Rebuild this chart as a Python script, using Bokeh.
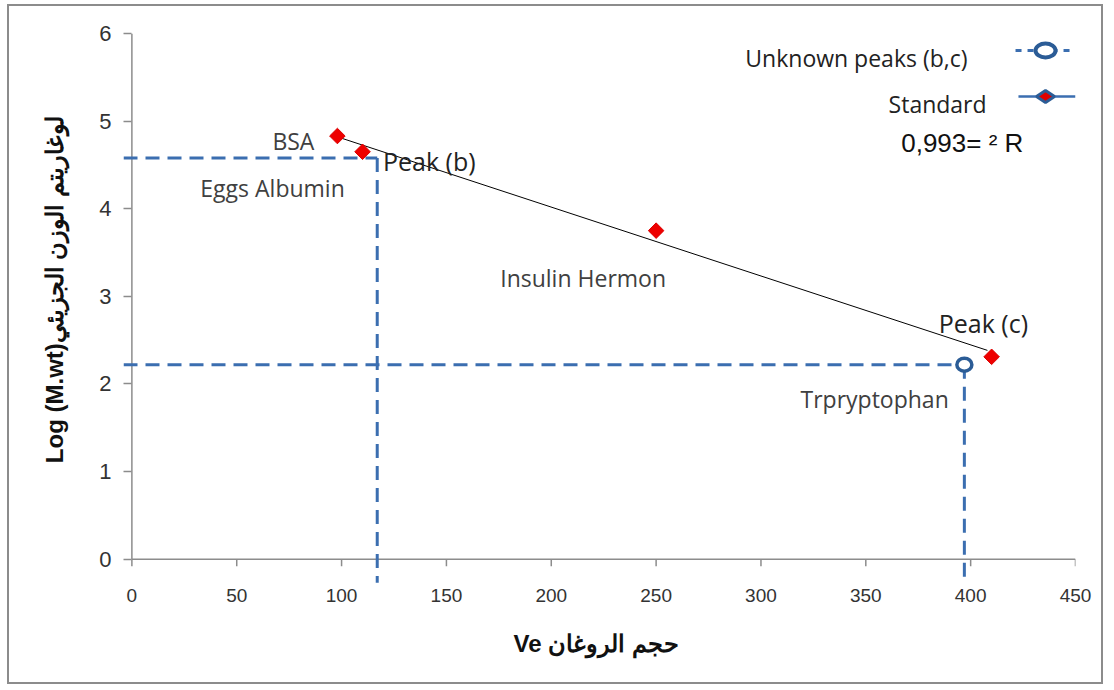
import numpy as np
from bokeh.plotting import figure
from bokeh.models import Range1d, ColumnDataSource, FixedTicker
from bokeh.core.properties import value
from bokeh.embed import file_html
from bokeh.resources import INLINE

# ---------------- data ----------------
std_names = ["BSA", "Eggs Albumin", "Insulin Hermon", "Trpryptophan"]
std_ve = [98, 110, 250, 410]
std_logmw = [4.83, 4.65, 3.75, 2.31]

peak_names = ["Peak (b)", "Peak (c)"]
peak_ve = [117, 397]
peak_logmw = [4.58, 2.22]

r2_text = "0,993= \u00b2 R"
legend_unknown = "Unknown peaks (b,c)"
legend_standard = "Standard"

x_ticks = [0, 50, 100, 150, 200, 250, 300, 350, 400, 450]
y_ticks = [0, 1, 2, 3, 4, 5, 6]

x_label = "Ve  حجم الروغان"
y_label = "Log (M.wt)لوغاريتم الوزن الجزيئي"

# ---------------- styling / layout ----------------
XMIN, XMAX = 0, 450          # axis extent
YMIN, YMAX = 0, 6
PADX, PADY = 4, 0.3          # room for guide lines that run past the axes
BLUE = "#3b6eb0"
DARKBLUE = "#2b5c96"
AXC = "#8c8c8c"
TXT = "#404040"
CAL = value("Open Sans")

p = figure(width=1096, height=680, output_backend="svg", toolbar_location=None,
           x_range=Range1d(XMIN - PADX, XMAX), y_range=Range1d(YMIN - PADY, YMAX),
           min_border_left=114, min_border_right=30, min_border_top=27,
           min_border_bottom=101, background_fill_color="white",
           border_fill_color="white")
p.styles = {"border": "2px solid #8c8c8c", "margin-left": "7px", "margin-top": "4px"}
p.outline_line_color = None
p.grid.visible = False

for ax, ticks in ((p.xaxis, x_ticks), (p.yaxis, y_ticks)):
    ax.ticker = FixedTicker(ticks=ticks)
    ax.axis_line_color = None
    ax.minor_tick_line_color = None
    ax.major_label_text_font = "Liberation Sans"
    ax.major_label_text_color = "#333333"
    ax.axis_label_text_font = "Liberation Sans"
    ax.axis_label_text_font_style = "bold"
    ax.axis_label_text_color = "#111111"

# y axis: ticks drawn inward from the frame edge so they end on the axis line
p.yaxis.major_tick_line_color = AXC
p.yaxis.major_tick_line_width = 1.5
p.yaxis.major_tick_in = 8
p.yaxis.major_tick_out = 0
p.yaxis.major_label_standoff = 12
p.yaxis.major_label_text_font_size = "22px"
# leading no-break spaces lift the rotated title to where the original sits
p.yaxis.axis_label = "\u00a0" * 6 + y_label
p.yaxis.axis_label_text_font_size = "24px"
p.yaxis.axis_label_standoff = 28

# x axis: labels placed just under the y=0 axis line
p.xaxis.major_tick_line_color = None
p.xaxis.major_label_standoff = -3
p.xaxis.major_label_text_font_size = "19px"
p.xaxis.axis_label = x_label
p.xaxis.axis_label_text_font_size = "24px"
p.xaxis.axis_label_standoff = 25

# axis lines at 0 and the x tick marks
p.segment([XMIN, XMIN], [YMIN, YMIN], [XMAX, XMIN], [YMIN, YMAX],
          line_color=AXC, line_width=1.5)
tick_len = 7 / 87.6
p.segment(x_ticks, [YMIN] * len(x_ticks), x_ticks, [YMIN - tick_len] * len(x_ticks),
          line_color=AXC, line_width=1.5)

# dashed guide lines of the unknown peaks
xs, ys = [], []
for vx, vy in zip(peak_ve, peak_logmw):
    xs.append([XMIN - PADX, vx]); ys.append([vy, vy])
    xs.append([vx, vx]); ys.append([vy, YMIN - 0.27])
p.multi_line(xs, ys, line_color=BLUE, line_width=3, line_dash="14 8")

# trend line of the standards
slope, icpt = np.polyfit(std_ve, std_logmw, 1)
tx = [min(std_ve), max(std_ve) - 2]
p.line(tx, [slope * v + icpt for v in tx], line_color="black", line_width=1)

# standards
p.scatter(std_ve, std_logmw, marker="square", size=11, angle=np.pi / 4,
          fill_color="#ee0000", line_color="#dd0000", line_width=1)

# unknown peak marker (only visible for peak c)
p.ellipse(peak_ve[1:], peak_logmw[1:], width=15, height=13, width_units="screen",
          height_units="screen", fill_color="white", line_color=DARKBLUE,
          line_width=3.5)

# labels of standards
src_std = ColumnDataSource(dict(x=std_ve, y=std_logmw, t=std_names,
                                dx=[-44, -90, -73, -117], dy=[5, 36, 47, 42]))
p.text("x", "y", text="t", source=src_std, x_offset="dx", y_offset="dy",
       text_align="center", text_baseline="middle", text_font=CAL,
       text_font_size="23px", text_color=TXT)

src_pk = ColumnDataSource(dict(x=peak_ve, y=peak_logmw, t=peak_names,
                               dx=[52, 19], dy=[3, -42]))
p.text("x", "y", text="t", source=src_pk, x_offset="dx", y_offset="dy",
       text_align="center", text_baseline="middle", text_font=CAL,
       text_font_size="25px", text_color="#222222")

# legend (label left, symbol right)
p.line([421.4, 450], [5.806, 5.806], line_color=BLUE, line_width=3, line_dash="6 6")
p.ellipse([435.7], [5.806], width=20, height=14, width_units="screen",
          height_units="screen", fill_color="white", line_color=DARKBLUE, line_width=4)
p.line([422.8, 450], [5.28, 5.28], line_color=BLUE, line_width=2.5)
p.scatter([435.7], [5.28], marker="diamond", size=18, angle=np.pi / 2,
          fill_color="#e00000", line_color=DARKBLUE, line_width=3)
p.text([398.5, 407.6], [5.715, 5.19], text=[legend_unknown, legend_standard],
       text_align="right", text_baseline="middle", text_font=CAL,
       text_font_size="23px", text_color="#222222")
p.text([396], [4.745], text=[r2_text], text_align="center", text_baseline="middle",
       text_font=value("Liberation Sans"), text_font_size="26px", text_color="#111111")

open("out.html", "w").write(file_html(p, INLINE))
